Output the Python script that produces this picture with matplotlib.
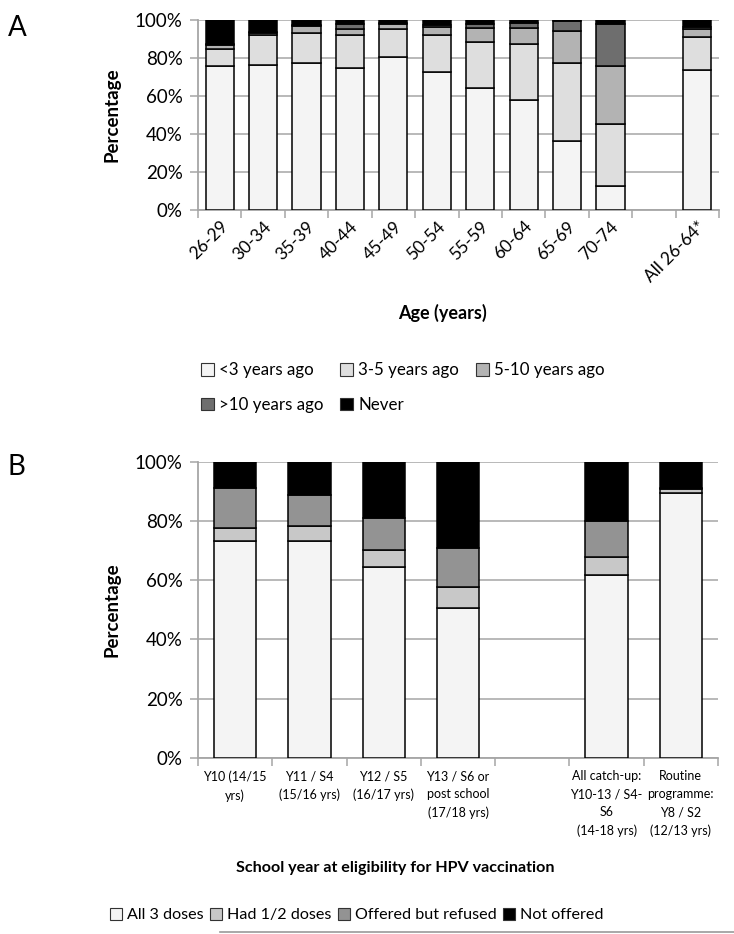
import matplotlib
matplotlib.use('Agg')
import matplotlib.pyplot as plt
from matplotlib.patches import Patch
from matplotlib.lines import Line2D
import numpy as np

plt.rcParams['font.family'] = ['Lato', 'DejaVu Sans']

# Panel A: time since last cervical screen, by age group
age_labels = ['26-29', '30-34', '35-39', '40-44', '45-49', '50-54',
              '55-59', '60-64', '65-69', '70-74', '', 'All 26-64*']
a_series = ['<3 years ago', '3-5 years ago', '5-10 years ago', '>10 years ago', 'Never']
a_lt3 = [76, 76.3, 77.2, 74.6, 80.5, 72.6, 64.4, 58, 36.1, 12.8, None, 73.5]
a_3to5 = [9, 15.8, 16.1, 17.7, 14.8, 19.7, 24, 29.4, 41.4, 32.3, None, 17.5]
a_5to10 = [2, 0.9, 3.5, 3, 2.6, 3.8, 7.2, 8.4, 16.5, 30.5, None, 4.1]
a_gt10 = [0.5, 0.5, 0.6, 2.6, 0.7, 1.3, 2.3, 2.4, 5.6, 22.3, None, 1]
a_never = [12.5, 6.5, 2.6, 2.1, 1.4, 2.6, 2.1, 1.8, 0.4, 2.1, None, 3.9]
a_colors = ['#f4f4f4', '#dedede', '#b3b3b3', '#6e6e6e', '#000000']

# Panel B: HPV vaccination status by school year at eligibility
school_labels = ['Y10 (14/15\nyrs)', 'Y11 / S4\n(15/16 yrs)', 'Y12 / S5\n(16/17 yrs)',
                 'Y13 / S6 or\npost school\n(17/18 yrs)', '',
                 'All catch-up:\nY10-13 / S4-\nS6\n(14-18 yrs)',
                 'Routine\nprogramme:\nY8 / S2\n(12/13 yrs)']
b_series = ['All 3 doses', 'Had 1/2 doses', 'Offered but refused', 'Not offered']
b_all3 = [73.2, 73.3, 64.5, 50.6, None, 61.7, 89.3]
b_partial = [4.3, 5, 5.8, 7, None, 6, 1.6]
b_refused = [13.5, 10.5, 10.7, 13.3, None, 12.3, 0.2]
b_notoffered = [9, 11.2, 19, 29.1, None, 20, 8.9]
b_colors = ['#f4f4f4', '#c8c8c8', '#939393', '#000000']

grid_col = '#a6a6a6'


def stacked(ax, labels, series_vals, colors, width, ax_w):
    idx = [i for i, l in enumerate(labels) if l != '']
    bottom = np.zeros(len(idx))
    for vals, col in zip(series_vals, colors):
        v = np.array([vals[i] for i in idx], dtype=float)
        ax.bar(idx, v, width=width, bottom=bottom, color=col,
               edgecolor='black', linewidth=1.1, zorder=3)
        bottom += v
    n = len(labels)
    ax.set_xlim(-0.5, n - 0.5)
    ax.set_ylim(0, 100)
    ax.set_yticks(np.arange(0, 101, 20))
    ax.set_yticklabels([f'{v}%' for v in range(0, 101, 20)], fontsize=13.5)
    ax.yaxis.grid(True, color=grid_col, linewidth=1.1, zorder=0)
    ax.set_axisbelow(True)
    ax.set_xticks(np.arange(-0.5, n, 1.0))
    ax.set_xticklabels([])
    ax.set_xticks(np.arange(n), minor=True)
    ax.tick_params(axis='x', which='major', length=6, color=grid_col, width=1.1)
    ax.tick_params(axis='y', length=6, color=grid_col, width=1.1, pad=5)
    for s in ['top', 'right']:
        ax.spines[s].set_visible(False)
    for s in ['left', 'bottom']:
        ax.spines[s].set_color(grid_col)
        ax.spines[s].set_linewidth(1.3)
    ax.set_ylabel('Percentage', fontsize=13.5, fontweight='bold')
    ax.yaxis.set_label_coords((121 - 198) / ax_w, 0.5)


fig = plt.figure(figsize=(7.34, 9.34), dpi=100)

axA = fig.add_axes([198 / 734, 1 - 210 / 934, 521 / 734, 190 / 934])
stacked(axA, age_labels, [a_lt3, a_3to5, a_5to10, a_gt10, a_never], a_colors, 0.65, 521)
axA.set_xticklabels(age_labels, minor=True, rotation=45, ha='right',
                    rotation_mode='anchor', fontsize=12.5)
axA.tick_params(axis='x', which='minor', length=0, pad=6)
fig.text(442 / 734, 1 - 313 / 934, 'Age (years)', ha='center', va='center',
         fontsize=13, fontweight='bold')

hA = [Patch(facecolor=c, edgecolor='#333333', linewidth=0.8) for c in a_colors]
order = [0, 3, 1, 4, 2]
fig.legend([hA[i] for i in order], [a_series[i] for i in order], ncol=3,
           loc='upper left', bbox_to_anchor=(186 / 734, 1 - 347 / 934),
           frameon=False, fontsize=12.2, handlelength=0.75, handleheight=0.75,
           handletextpad=0.3, columnspacing=1.0, labelspacing=1.1)

axB = fig.add_axes([198 / 734, 1 - 758 / 934, 520 / 734, 296.3 / 934])
stacked(axB, school_labels, [b_all3, b_partial, b_refused, b_notoffered], b_colors, 0.57, 520)
axB.set_xticklabels(school_labels, minor=True, fontsize=9, linespacing=1.6,
                    va='top')
axB.tick_params(axis='x', which='minor', length=0, pad=9)
fig.text(395 / 734, 1 - 868 / 934, 'School year at eligibility for HPV vaccination',
         ha='center', va='center', fontsize=11.6, fontweight='bold')

hB = [Patch(facecolor=c, edgecolor='#333333', linewidth=0.8) for c in b_colors]
fig.legend(hB, b_series, ncol=4, loc='center', bbox_to_anchor=(357 / 734, 1 - 915 / 934),
           frameon=False, fontsize=11.6, handlelength=0.75, handleheight=0.75,
           handletextpad=0.3, columnspacing=0.4)

fig.add_artist(Line2D([220 / 734, 1.0], [1 - 932 / 934, 1 - 932 / 934],
                      color='#999999', linewidth=1.2, transform=fig.transFigure))

fig.text(8 / 734, 1 - 28 / 934, 'A', fontsize=20, va='center', ha='left')
fig.text(8 / 734, 1 - 467 / 934, 'B', fontsize=20, va='center', ha='left')

fig.savefig('out.png', dpi=100)
